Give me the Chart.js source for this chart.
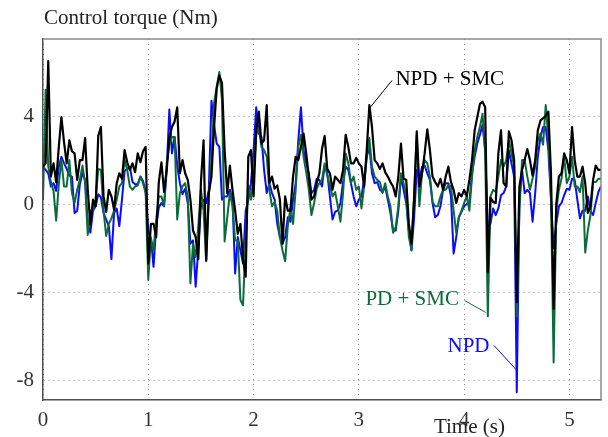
<!DOCTYPE html>
<html>
<head>
<meta charset="utf-8">
<script src="https://cdn.jsdelivr.net/npm/chart.js@4/dist/chart.umd.min.js"></script>
<style>
html,body{margin:0;padding:0;background:#fff;}
#wrap{width:608px;height:437px;position:relative;}
</style>
</head>
<body>
<div id="wrap"><canvas id="c" width="608" height="437"></canvas></div>
<script>
// ---- data (time in s, control torque in Nm) ----
const time = [
0,0.025,0.05,0.075,0.1,0.125,0.15,0.175,0.2,0.225,0.25,0.275,0.3,0.325,0.35,0.375,0.4,0.425,0.45,0.475,
0.5,0.525,0.55,0.575,0.6,0.625,0.65,0.675,0.7,0.725,0.75,0.775,0.8,0.825,0.85,0.875,0.9,0.925,0.95,0.975,
1,1.025,1.05,1.075,1.1,1.125,1.15,1.175,1.2,1.225,1.25,1.275,1.3,1.325,1.35,1.375,1.4,1.425,1.45,1.475,
1.5,1.525,1.55,1.575,1.6,1.625,1.65,1.675,1.7,1.725,1.75,1.775,1.8,1.825,1.85,1.875,1.9,1.925,1.95,1.975,
2,2.025,2.05,2.075,2.1,2.125,2.15,2.175,2.2,2.225,2.25,2.275,2.3,2.325,2.35,2.375,2.4,2.425,2.45,2.475,
2.5,2.525,2.55,2.575,2.6,2.625,2.65,2.675,2.7,2.725,2.75,2.775,2.8,2.825,2.85,2.875,2.9,2.925,2.95,2.975,
3,3.025,3.05,3.075,3.1,3.125,3.15,3.175,3.2,3.225,3.25,3.275,3.3,3.325,3.35,3.375,3.4,3.425,3.45,3.475,
3.5,3.525,3.55,3.575,3.6,3.625,3.65,3.675,3.7,3.725,3.75,3.775,3.8,3.825,3.85,3.875,3.9,3.925,3.95,3.975,
4,4.025,4.05,4.075,4.1,4.125,4.15,4.175,4.2,4.225,4.25,4.275,4.3,4.325,4.35,4.375,4.4,4.425,4.45,4.475,
4.5,4.525,4.55,4.575,4.6,4.625,4.65,4.675,4.7,4.725,4.75,4.775,4.8,4.825,4.85,4.875,4.9,4.925,4.95,4.975,
5,5.025,5.05,5.075,5.1,5.125,5.15,5.175,5.2,5.225,5.25,5.275,5.3
];

const npdSmc = [
1.7,1.85,6.5,1.25,1.85,1.0,2.6,3.95,2.8,1.85,
2.9,2.4,2.3,1.1,2.0,2.0,3.0,0.65,-0.95,0.2,
-0.1,3.1,3.5,0.35,-0.35,0.65,0.35,-0.25,0.95,1.4,
1.15,2.45,1.9,1.55,1.85,1.45,2.3,1.9,2.4,2.6,
-2.7,-0.9,-0.9,-1.5,1.0,1.9,0.55,1.55,3.0,3.5,
3.75,4.4,1.4,2.0,1.4,1.1,0.2,-1.2,-1.5,-2.5,
1.0,2.9,-2.55,0.5,1.25,3.5,5.25,5.85,5.5,2.45,
0.5,1.75,0.65,-0.3,-1.35,-0.9,-2.5,-3.3,2.15,2.45,
0.35,3.35,4.2,2.75,2.9,4.5,0.95,1.25,0.7,0.85,
0.2,-1.8,0.35,-0.3,-0.3,1.25,2.15,2.0,2.6,3.2,
2.3,1.25,0.2,0.35,0.95,1.4,2.5,3.1,1.6,1.4,
0.65,1.25,1.1,0.95,1.55,3.15,2.6,1.85,1.85,2.1,
1.85,1.7,0.8,2.45,4.5,3.5,2.0,1.85,1.6,1.85,
1.45,1.25,1.0,0.8,0.35,1.25,2.75,1.15,1.1,-0.9,
-1.8,0.2,3.3,0.8,1.4,2.3,3.4,2.45,1.25,1.0,
0.8,1.15,0.65,1.25,1.7,1.0,0.65,0.05,0.5,0.35,
0.65,0.35,1.1,2.0,3.35,3.95,4.55,4.65,4.4,-3.1,
0.3,0.1,0.05,2.3,3.35,0.95,0.8,3.3,2.9,2.0,
-4.45,0.8,1.55,2.0,2.5,2.0,1.3,2.0,3.35,3.8,
3.9,4.0,4.2,1.4,-4.75,0.0,1.25,1.4,2.3,2.0,
1.4,3.5,2.0,1.25,1.25,1.7,0.95,-0.4,-0.1,1.1,
1.75,1.55,1.55
];

const pdSmc = [
0.2,5.2,1.7,1.0,0.6,-0.75,0.9,2.0,0.8,0.8,
2.0,0.5,0.05,0.65,1.1,1.75,0.95,-1.4,-0.3,-0.25,
0.2,1.6,1.55,-0.3,-1.45,-0.9,-0.65,-0.3,0.2,0.8,
0.95,2.0,1.55,0.8,0.65,0.8,0.85,1.25,0.95,0.5,
-3.45,-1.55,-2.1,-0.7,0.35,0.35,-0.1,1.85,2.7,3.05,
3.05,-0.7,0.5,0.8,0.95,0.35,-3.6,-1.8,-2.4,-1.0,
0.65,-0.3,-2.6,0.35,2.0,4.6,5.35,6.0,4.75,-1.7,
-0.6,0.5,-0.1,-1.65,-1.65,-4.35,-4.6,-1.5,0.85,0.2,
1.25,3.15,3.45,2.6,2.45,2.15,0.65,-0.1,0.1,-0.3,
-1.5,-2.1,-2.6,-1.0,-0.2,-0.9,0.65,2.6,3.15,2.15,
1.45,0.65,-0.5,0.05,0.7,0.95,1.1,1.85,1.3,0.85,
0.35,0.55,-0.1,-0.8,0.5,2.3,1.85,0.95,1.25,0.65,
0.8,-0.2,0.8,2.15,3.0,1.7,1.25,1.1,1.0,0.5,
0.95,0.35,-0.1,-1.3,-1.05,-0.1,1.4,0.95,0.35,-1.5,
-2.1,0.5,3.15,-0.1,1.4,2.0,1.85,1.25,0.1,-0.1,
-0.1,0.35,0.65,0.65,0.85,0.8,-0.3,-1.3,-0.6,-0.3,
0.05,0.35,-0.3,1.25,2.45,3.05,3.5,4.1,2.3,-5.1,
0.35,0.65,0.55,1.25,2.0,1.7,2.0,2.9,2.3,1.7,
-5.1,-0.3,2.0,2.0,1.25,0.65,1.15,1.7,2.9,3.2,
2.7,4.5,3.0,0.35,-7.2,-0.3,0.65,1.15,2.15,0.95,
1.25,2.15,0.8,0.8,0.55,1.25,-2.2,-1.2,-0.5,1.0,
1.0,1.15,1.15
];

const npd = [
1.7,1.55,1.4,0.8,0.95,0.6,1.7,2.15,1.85,1.6,
1.3,1.25,-0.4,-0.3,0.9,1.4,1.1,-0.9,-1.3,-0.3,
-0.1,0.45,0.3,-0.4,-0.7,-1.0,-2.5,-0.4,-0.2,-1.0,
0.2,1.5,1.6,1.7,1.0,0.9,0.9,1.25,1.05,0.55,
-1.2,-1.55,-2.85,-1.0,-0.15,0.05,-0.1,1.55,4.3,2.3,
3.05,1.75,0.95,0.45,0.7,0.05,-1.8,-1.65,-3.75,-2.0,
-0.1,0.2,0.05,0.65,4.7,3.6,2.75,2.6,0.2,0.35,
0.35,0.65,0.2,-3.15,-1.5,-2.1,-2.7,-0.3,0.2,0.95,
2.45,4.4,3.2,3.05,1.55,0.5,0.95,0.5,0.2,-0.9,
-1.5,-1.8,-1.5,-0.6,-0.8,0.2,0.95,2.9,4.4,2.45,
1.85,1.4,0.5,0.65,1.15,1.1,0.8,1.75,1.4,0.35,
-0.7,-0.35,-0.3,0.05,1.0,1.7,1.55,0.95,0.35,-0.1,
0.2,0.35,1.1,2.15,2.6,1.4,0.95,1.0,0.65,0.55,
0.8,0.2,-0.4,-1.2,-1.2,-0.3,1.25,0.65,0.05,-1.2,
-2.1,-0.6,1.55,1.1,1.7,1.75,1.4,1.1,0.05,-0.6,
-0.5,-0.1,0.65,0.95,0.95,0.35,-2.25,-1.5,-0.6,-0.35,
-0.1,0.0,0.1,1.4,2.15,2.75,3.15,3.6,2.45,-1.0,
-0.9,-0.2,-0.5,-0.2,0.4,0.5,0.8,2.45,1.85,1.25,
-8.55,0.2,1.55,0.5,0.65,0.5,-0.8,0.5,2.15,3.05,
3.5,3.5,2.45,0.2,-2.0,-0.9,-0.1,0.05,0.4,0.7,
0.65,1.15,1.1,0.2,-0.65,-0.3,-0.3,0.35,-0.3,-0.5,
0.05,0.55,0.8
];

const xTicks = [0, 1, 2, 3, 4, 5];
const yTicks = [-8, -4, 0, 4];
const xRange = [0, 5.3];
const yRange = [-8.9, 7.5];

const yTitle = 'Control torque (Nm)';
const xTitle = 'Time (s)';
// callout labels: [text, colour key, text anchor (t, v), align, leader start (t, v), leader end (t, v)]
const callouts = [
  ['NPD + SMC', 'black', [3.347, 5.67], 'left',  [3.316, 5.62], [3.109, 4.40]],
  ['PD + SMC',  'green', [3.951, -4.35], 'right', [4.004, -4.38], [4.204, -4.92]],
  ['NPD',       'blue',  [4.241, -6.47], 'right', [4.283, -6.42], [4.501, -7.56]]
];

// ---- styles ----
const COLORS = {black: '#000000', green: '#0b6b3b', blue: '#0a0aff'};
const FONT = "'Liberation Serif', 'Times New Roman', serif";

function pts(arr) { return time.map((t, i) => ({x: t, y: arr[i]})); }

const decor = {
  id: 'decor',
  afterDraw(chart) {
    const {ctx, chartArea: a, scales: {x, y}} = chart;
    ctx.save();
    // top & right frame
    ctx.strokeStyle = '#8a8a8a';
    ctx.lineWidth = 1.5;
    ctx.beginPath();
    ctx.moveTo(a.left, a.top);
    ctx.lineTo(a.right, a.top);
    ctx.lineTo(a.right, a.bottom);
    ctx.stroke();
    // titles
    ctx.fillStyle = '#222';
    ctx.font = '21px ' + FONT;
    ctx.textBaseline = 'middle';
    ctx.textAlign = 'left';
    ctx.fillText(yTitle, a.left + 1, 18);
    ctx.textAlign = 'center';
    ctx.fillText(xTitle, x.getPixelForValue(4.05), 427);
    // callouts
    callouts.forEach(([txt, col, pos, align, p1, p2]) => {
      ctx.strokeStyle = COLORS[col];
      ctx.fillStyle = COLORS[col];
      ctx.lineWidth = 1;
      ctx.beginPath();
      ctx.moveTo(x.getPixelForValue(p1[0]), y.getPixelForValue(p1[1]));
      ctx.lineTo(x.getPixelForValue(p2[0]), y.getPixelForValue(p2[1]));
      ctx.stroke();
      ctx.textAlign = align;
      ctx.textBaseline = 'middle';
      ctx.fillText(txt, x.getPixelForValue(pos[0]), y.getPixelForValue(pos[1]));
    });
    ctx.restore();
  }
};

new Chart(document.getElementById('c'), {
  type: 'line',
  data: {
    datasets: [
      {label: 'NPD + SMC', data: pts(npdSmc), borderColor: COLORS.black, borderWidth: 2.2},
      {label: 'PD + SMC', data: pts(pdSmc), borderColor: COLORS.green, borderWidth: 2},
      {label: 'NPD', data: pts(npd), borderColor: COLORS.blue, borderWidth: 2}
    ]
  },
  options: {
    responsive: false,
    animation: false,
    devicePixelRatio: 1,
    parsing: true,
    layout: {padding: {top: 39, right: 7, left: 0, bottom: 0}},
    plugins: {legend: {display: false}, tooltip: {enabled: false}},
    elements: {
      point: {radius: 0},
      line: {tension: 0, borderJoinStyle: 'round', fill: false}
    },
    scales: {
      x: {
        type: 'linear', min: xRange[0], max: xRange[1],
        afterBuildTicks: s => { s.ticks = xTicks.map(v => ({value: v})); },
        afterFit: s => { s.height = 37; },
        grid: {color: '#8c8c8c', lineWidth: 1, drawTicks: false},
        border: {display: true, color: '#505050', width: 1.5, dash: [1, 4]},
        ticks: {font: {family: FONT, size: 21}, color: '#333', padding: 8, maxRotation: 0, autoSkip: false}
      },
      y: {
        type: 'linear', min: yRange[0], max: yRange[1],
        afterBuildTicks: s => { s.ticks = yTicks.map(v => ({value: v})); },
        afterFit: s => { s.width = 43; },
        grid: {color: '#8c8c8c', lineWidth: 1, drawTicks: false},
        border: {display: true, color: '#505050', width: 1.5, dash: [1, 4]},
        ticks: {font: {family: FONT, size: 21}, color: '#333', padding: 9, autoSkip: false}
      }
    }
  },
  plugins: [decor]
});
</script>
</body>
</html>
